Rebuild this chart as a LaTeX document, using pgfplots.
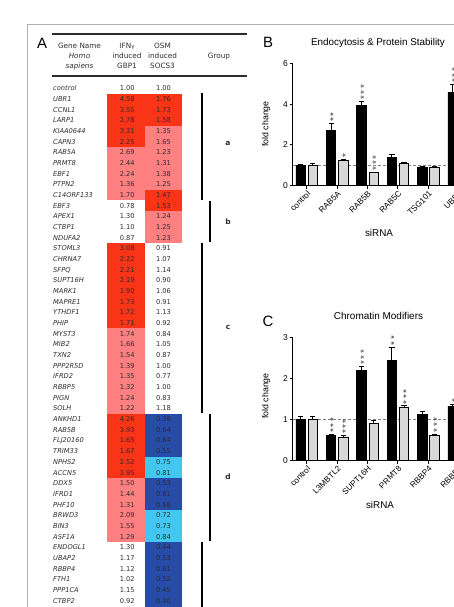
\documentclass[border=0pt]{standalone}
\usepackage{pgfplots}
\pgfplotsset{compat=1.18}
\usepackage{pgfplotstable}
\usepackage{fontspec}
\setmainfont{Liberation Sans}
\newfontfamily\verd{DejaVu Sans}

\definecolor{cred}{RGB}{250,52,22}
\definecolor{cpink}{RGB}{255,128,128}
\definecolor{cdblue}{RGB}{38,76,168}
\definecolor{clblue}{RGB}{66,200,240}
\definecolor{cgrey}{RGB}{216,216,216}
\definecolor{cframe}{RGB}{175,175,175}
\definecolor{ctext}{RGB}{45,45,45}

\pgfplotstableread{
r gene g s
0 control 1.00 1.00
1 UBR1 4.58 1.76
2 CCNL1 3.55 1.73
3 LARP1 2.78 1.58
4 KIAA0644 3.31 1.35
5 CAPN3 2.25 1.65
6 RAB5A 2.69 1.23
7 PRMT8 2.44 1.31
8 EBF1 2.24 1.38
9 PTPN2 1.36 1.25
10 C14ORF133 1.70 1.47
11 EBF3 0.78 1.53
12 APEX1 1.30 1.24
13 CTBP1 1.10 1.25
14 NDUFA2 0.87 1.23
15 STOML3 3.08 0.91
16 CHRNA7 2.22 1.07
17 SFPQ 2.21 1.14
18 SUPT16H 2.19 0.90
19 MARK1 1.90 1.06
20 MAPRE1 1.73 0.91
21 YTHDF1 1.72 1.13
22 PHIP 1.71 0.92
23 MYST3 1.74 0.84
24 MIB2 1.66 1.05
25 TXN2 1.54 0.87
26 PPP2R5D 1.39 1.00
27 IFRD2 1.35 0.77
28 RBBP5 1.32 1.00
29 PIGN 1.24 0.83
30 SOLH 1.22 1.18
31 ANKHD1 4.26 0.36
32 RAB5B 3.93 0.64
33 FLJ20160 1.65 0.64
34 TRIM33 1.67 0.55
35 NPHS2 2.52 0.75
36 ACCN5 1.95 0.81
37 DDX5 1.50 0.53
38 IFRD1 1.44 0.81
39 PHF10 1.31 0.58
40 BRWD3 2.09 0.72
41 BIN3 1.55 0.73
42 ASF1A 1.29 0.84
43 ENDOGL1 1.30 0.44
44 UBAP2 1.17 0.53
45 RBBP4 1.12 0.61
46 FTH1 1.02 0.52
47 PPP1CA 1.15 0.45
48 CTBP2 0.92 0.40
}\genes

\pgfplotstableread{
x v e s
0 1.00 0.05 0
1 2.70 0.36 2
2 3.93 0.20 3
3 1.37 0.14 0
4 0.92 0.03 0
5 4.58 0.38 3
}\Bblack
\pgfplotstableread{
x v e s
0 1.00 0.07 0
1 1.22 0.06 1
2 0.64 0.03 3
3 1.10 0.03 0
4 0.88 0.05 0
}\Bgrey
\pgfplotstableread{
x v e s
0 1.00 0.07 0
1 0.62 0.02 3
2 2.20 0.10 3
3 2.45 0.32 2
4 1.12 0.08 0
5 1.33 0.05 1
}\Cblack
\pgfplotstableread{
x v e s
0 1.00 0.09 0
1 0.57 0.04 3
2 0.90 0.08 0
3 1.31 0.03 3
4 0.62 0.03 3
}\Cgrey

% stars set as one rotated run, stacked upwards
\newcommand\starstack[1]{\ifcase#1\relax\or*\or*\kern1.6bp*\or*\kern1.6bp*\kern1.6bp*\fi}

\newcommand\cellblock[5]{\addplot[fill=#5,draw=none] table[row sep=\\,y expr={82.96+10.675*\thisrow{r}}]{x r\\#1 #3\\#2 #3\\#2 #4\\#1 #4\\};}

\pgfplotsset{
  panel/.style={anchor=south west, scale only axis, width=190.6bp,
    xmin=-0.47, xmax=5.8, ymin=0,
    axis x line*=bottom, axis y line*=left,
    axis line style={line width=1.3bp, black},
    xtick={0,1,2,3,4,5},
    tick align=outside, major tick length=3bp,
    tick style={line width=1bp, black},
    x tick label style={rotate=45, anchor=north east, inner sep=1bp, font=\fontsize{8.2}{9}\selectfont},
    y tick label style={font=\fontsize{8.5}{10}\selectfont, inner sep=1.5bp},
    /pgf/number format/assume math mode=true,
    clip=false},
  blackbar/.style={ybar, bar width=9.5bp, bar shift=0pt, fill=black, draw=black, line width=0.8bp,
    /pgfplots/error bars/y dir=plus, /pgfplots/error bars/y explicit,
    /pgfplots/error bars/error bar style={line width=1bp, black},
    /pgfplots/error bars/error mark options={rotate=90, mark size=2.6bp, line width=1bp, black}},
  greybar/.style={blackbar, fill=cgrey},
  starplot/.style={only marks, mark=none, point meta=explicit symbolic,
    nodes near coords={\starstack{\pgfplotspointmeta}},
    nodes near coords style={rotate=90, anchor=west, inner xsep=1.5bp, inner ysep=0pt,
      text height=11.6bp, text depth=0pt, font=\fontsize{10}{10}\selectfont, text=black!75}},
  dashline/.style={gray, line width=0.9bp, dash pattern=on 3bp off 2bp},
}

\begin{document}
\begin{tikzpicture}
\useasboundingbox (0,0) rectangle (454bp,607bp);
\clip (0,0) rectangle (454bp,607bp);

% ---------- canvas axis (panel A and annotations) ----------
\begin{axis}[at={(0,0)}, anchor=south west, scale only axis, width=454bp, height=607bp,
  xmin=0, xmax=454, ymin=0, ymax=607, y dir=reverse, hide axis, clip=false]
% frame
\draw[cframe, line width=0.8bp] (27.5,615) -- (27.5,24) -- (470,24);
% table rules
\draw[ctext, line width=1.1bp] (52,34) -- (246.5,34);
\draw[ctext, line width=1.1bp] (52,76) -- (246.5,76);
% coloured cells: GBP1
\cellblock{107}{144.5}{1}{6}{cred}
\cellblock{107}{144.5}{6}{11}{cpink}
\cellblock{107}{144.5}{15}{23}{cred}
\cellblock{107}{144.5}{23}{31}{cpink}
\cellblock{107}{144.5}{31}{37}{cred}
\cellblock{107}{144.5}{37}{43}{cpink}
% coloured cells: SOCS3
\cellblock{144.5}{182}{1}{4}{cred}
\cellblock{144.5}{182}{4}{10}{cpink}
\cellblock{144.5}{182}{10}{12}{cred}
\cellblock{144.5}{182}{12}{15}{cpink}
\cellblock{144.5}{182}{31}{35}{cdblue}
\cellblock{144.5}{182}{35}{37}{clblue}
\cellblock{144.5}{182}{37}{40}{cdblue}
\cellblock{144.5}{182}{40}{43}{clblue}
\cellblock{144.5}{182}{43}{50}{cdblue}
% gene names
\addplot[only marks, mark=none, point meta=explicit symbolic, nodes near coords,
  nodes near coords style={anchor=west, inner sep=0pt, text=ctext, text height=4.8bp, text depth=0pt,
    font=\verd\itshape\fontsize{6.7}{8}\selectfont}]
  table[x expr=53, y expr={88.3+10.675*\thisrow{r}}, meta=gene]{\genes};
% GBP1 values
\addplot[only marks, mark=none, point meta=explicit symbolic, nodes near coords,
  nodes near coords style={anchor=center, inner sep=0pt, text=ctext, text height=4.8bp, text depth=0pt,
    font=\verd\fontsize{6.7}{8}\selectfont}]
  table[x expr=127.3, y expr={88.3+10.675*\thisrow{r}}, meta=g]{\genes};
% SOCS3 values
\addplot[only marks, mark=none, point meta=explicit symbolic, nodes near coords,
  nodes near coords style={anchor=center, inner sep=0pt, text=ctext, text height=4.8bp, text depth=0pt,
    font=\verd\fontsize{6.7}{8}\selectfont}]
  table[x expr=163.5, y expr={88.3+10.675*\thisrow{r}}, meta=s]{\genes};
% group bars
\addplot[black, line width=1.5bp] coordinates {(202,93) (202,199.5)};
\addplot[black, line width=1.5bp] coordinates {(210,201) (210,241.5)};
\addplot[black, line width=1.5bp] coordinates {(202,242.5) (202,412.5)};
\addplot[black, line width=1.5bp] coordinates {(210,413.5) (210,540.5)};
\addplot[black, line width=1.5bp] coordinates {(202,541.5) (202,615)};
\begin{scope}[every node/.style={font=\verd\bfseries\fontsize{7.5}{9}\selectfont, text=ctext, inner sep=0pt}]
\node at (228,143) {a};
\node at (228,222) {b};
\node at (228,327) {c};
\node at (228,477) {d};
\end{scope}
% header
\begin{scope}[every node/.style={font=\verd\fontsize{7.3}{9}\selectfont, text=ctext, inner sep=0pt, text height=5.4bp, text depth=0pt, anchor=center}]
\node at (79.5,45.5) {Gene Name};
\node at (79.5,55.5) {\itshape Homo};
\node at (79.5,65.5) {\itshape sapiens};
\node at (127,45.5) {IFN\raisebox{-0.6bp}{\fontsize{5.5}{6}\selectfont γ}};
\node at (127,55.5) {induced};
\node at (127,65.5) {GBP1};
\node at (162.5,45.5) {OSM};
\node at (162.5,55.5) {induced};
\node at (162.5,65.5) {SOCS3};
\node at (219,55.5) {Group};
\end{scope}
% panel letters
\node[font=\fontsize{15}{15}\selectfont, inner sep=0pt] at (42,43) {A};
\node[font=\fontsize{15}{15}\selectfont, inner sep=0pt] at (268,42) {B};
\node[font=\fontsize{15}{15}\selectfont, inner sep=0pt] at (268,321) {C};
% titles and axis labels of B and C
\node[font=\fontsize{9.9}{11}\selectfont, inner sep=0pt] at (378,43) {Endocytosis \& Protein Stability};
\node[font=\fontsize{10}{11}\selectfont, inner sep=0pt] at (378.5,316) {Chromatin Modifiers};
\node[font=\fontsize{8.8}{10}\selectfont, inner sep=0pt, rotate=90] at (266,124) {fold change};
\node[font=\fontsize{8.8}{10}\selectfont, inner sep=0pt, rotate=90] at (266,396) {fold change};
\node[font=\fontsize{9.9}{11}\selectfont, inner sep=0pt] at (379,233) {siRNA};
\node[font=\fontsize{9.9}{11}\selectfont, inner sep=0pt] at (380,505) {siRNA};
\end{axis}

% ---------- panel B ----------
\begin{axis}[panel, at={(292.5bp,421.3bp)}, height=122.4bp, ymax=6, ytick={0,2,4,6},
  xticklabels={control,RAB5A,RAB5B,RAB5C,TSG101,UBR1}]
\addplot[dashline] coordinates {(-0.47,1) (5.8,1)};
\addplot[blackbar] table[x expr=\thisrow{x}-0.2, y=v, y error=e]{\Bblack};
\addplot[greybar] table[x expr=\thisrow{x}+0.2, y=v, y error=e]{\Bgrey};
\addplot[starplot] table[x expr=\thisrow{x}-0.2, y expr=\thisrow{v}+\thisrow{e}, meta=s]{\Bblack};
\addplot[starplot] table[x expr=\thisrow{x}+0.2, y expr=\thisrow{v}+\thisrow{e}, meta=s]{\Bgrey};
\end{axis}

% ---------- panel C ----------
\begin{axis}[panel, at={(292.5bp,146.3bp)}, height=123bp, ymax=3, ytick={0,1,2,3},
  xticklabels={control,L3MBTL2,SUPT16H,PRMT8,RBBP4,RBBP5}]
\addplot[dashline] coordinates {(-0.47,1) (5.8,1)};
\addplot[blackbar] table[x expr=\thisrow{x}-0.2, y=v, y error=e]{\Cblack};
\addplot[greybar] table[x expr=\thisrow{x}+0.2, y=v, y error=e]{\Cgrey};
\addplot[starplot] table[x expr=\thisrow{x}-0.2, y expr=\thisrow{v}+\thisrow{e}, meta=s]{\Cblack};
\addplot[starplot] table[x expr=\thisrow{x}+0.2, y expr=\thisrow{v}+\thisrow{e}, meta=s]{\Cgrey};
\end{axis}
\end{tikzpicture}
\end{document}
